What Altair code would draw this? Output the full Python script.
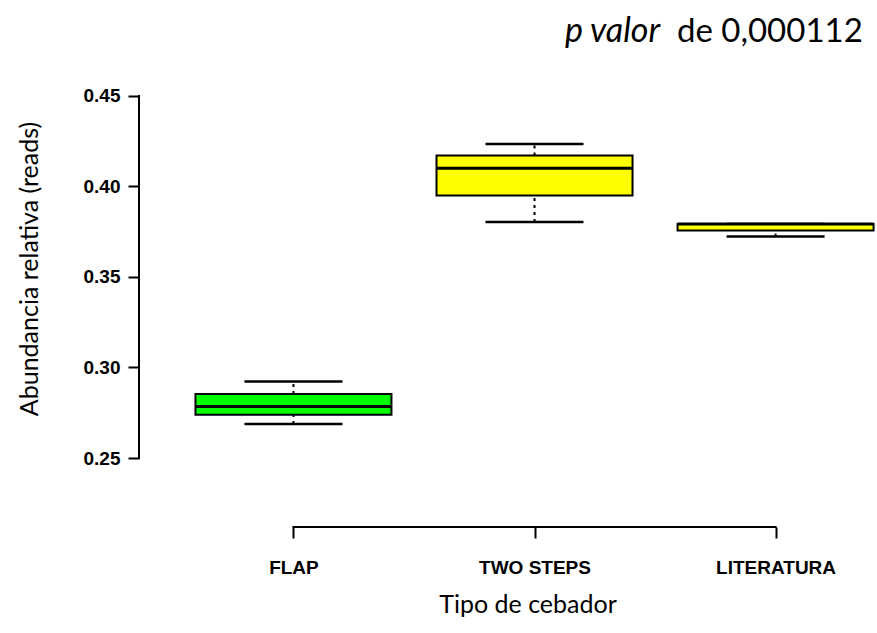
import altair as alt
import pandas as pd

# ---- data ----
categories = ["FLAP", "TWO STEPS", "LITERATURA"]
whisker_low = [0.2688, 0.3803, 0.3723]
q1 = [0.2739, 0.3950, 0.3756]
median = [0.2785, 0.4101, 0.3793]
q3 = [0.2853, 0.4171, 0.3793]
whisker_high = [0.2922, 0.4235, 0.3793]
fill_colors = ["#00FF00", "#FFFF00", "#FFFF00"]
y_ticks = [0.25, 0.30, 0.35, 0.40, 0.45]

title_italic = "p valor"
title_rest = "de 0,000112"
x_title = "Tipo de cebador"
y_title = "Abundancia relativa (reads)"

W, H = 738, 449

df = pd.DataFrame({
    "cat": categories,
    "pos": list(range(1, len(categories) + 1)),
    "lo": whisker_low, "q1": q1, "med": median, "q3": q3, "hi": whisker_high,
})
axis_df = pd.DataFrame({
    "ylo": [min(y_ticks)], "yhi": [max(y_ticks)],
    "xlo": [1], "xhi": [len(categories)],
})

label_expr = "[" + ",".join(f"'{c}'" for c in categories) + "][datum.value - 1]"

xscale = alt.Scale(domain=[0.38, 3.4], nice=False, zero=False)
yscale = alt.Scale(domain=[0.2119, 0.4599], nice=False, zero=False)

xaxis = alt.Axis(values=list(range(1, len(categories) + 1)), labelExpr=label_expr,
                 domain=False, grid=False, tickSize=11, tickWidth=2, tickColor="black",
                 labelFont="Liberation Sans", labelFontWeight="bold", labelFontSize=19,
                 labelColor="black", labelPadding=20, title=None, labelFlush=False)
yaxis = alt.Axis(values=y_ticks, format=".2f", domain=False, grid=False,
                 tickSize=11, tickWidth=2, tickColor="black",
                 labelFont="Liberation Sans", labelFontWeight="bold", labelFontSize=19,
                 labelColor="black", labelPadding=8, title=None)


def X(field):
    return alt.X(field, scale=xscale, axis=xaxis)


def Y(field):
    return alt.Y(field, scale=yscale, axis=yaxis)


base = alt.Chart(df)

whisk_up = base.mark_rule(color="black", strokeWidth=2, strokeDash=[3, 4]).encode(
    x=X("pos:Q"), y=Y("q3:Q"), y2="hi:Q")
whisk_dn = base.mark_rule(color="black", strokeWidth=2, strokeDash=[3, 4]).encode(
    x=X("pos:Q"), y=Y("lo:Q"), y2="q1:Q")
staple_up = base.mark_tick(orient="horizontal", size=98, thickness=2.5, color="black", opacity=1).encode(
    x=X("pos:Q"), y=Y("hi:Q"))
staple_dn = base.mark_tick(orient="horizontal", size=98, thickness=2.5, color="black", opacity=1).encode(
    x=X("pos:Q"), y=Y("lo:Q"))
box = base.mark_bar(size=196, stroke="black", strokeWidth=2, clip=True, opacity=1).encode(
    x=X("pos:Q"), y=Y("q1:Q"), y2="q3:Q",
    color=alt.Color("cat:N", scale=alt.Scale(domain=categories, range=fill_colors), legend=None))
med = base.mark_tick(orient="horizontal", size=196, thickness=3, color="black", clip=True, opacity=1).encode(
    x=X("pos:Q"), y=Y("med:Q"))

ax = alt.Chart(axis_df)
yline = ax.mark_rule(color="black", strokeWidth=2, strokeCap="square").encode(
    x=alt.value(0), y=Y("ylo:Q"), y2="yhi:Q")
xline = ax.mark_rule(color="black", strokeWidth=2, strokeCap="square").encode(
    y=alt.value(H), x=X("xlo:Q"), x2="xhi:Q")

txt_df = pd.DataFrame({"t1": [title_italic], "t2": [title_rest], "xt": [x_title], "yt": [y_title]})
tc = alt.Chart(txt_df)
t_ital = tc.mark_text(font="Lato", fontSize=34, fontStyle="italic", align="left",
                      baseline="alphabetic", color="black").encode(
    text="t1:N", x=alt.value(426), y=alt.value(-36))
t_rest = tc.mark_text(font="Lato", fontSize=33, align="left",
                      baseline="alphabetic", color="black").encode(
    text="t2:N", x=alt.value(538), y=alt.value(-36))
t_x = tc.mark_text(font="Lato", fontSize=25, align="center", baseline="middle", color="black").encode(
    text="xt:N", x=alt.value(389), y=alt.value(527))
t_y = tc.mark_text(font="Lato", fontSize=25, align="center", baseline="middle", angle=270,
                   color="black").encode(
    text="yt:N", x=alt.value(-109), y=alt.value(191))

chart = alt.layer(
    whisk_up, whisk_dn, staple_up, staple_dn, box, med, yline, xline,
    t_ital, t_rest, t_x, t_y
).properties(
    width=W, height=H,
    padding={"left": 139, "top": 78, "right": 0, "bottom": 106},
    autosize=alt.AutoSizeParams(type="none"),
    background="white",
).configure_view(stroke=None)

chart.save("out.html", embed_options={"renderer": "svg", "actions": False})
